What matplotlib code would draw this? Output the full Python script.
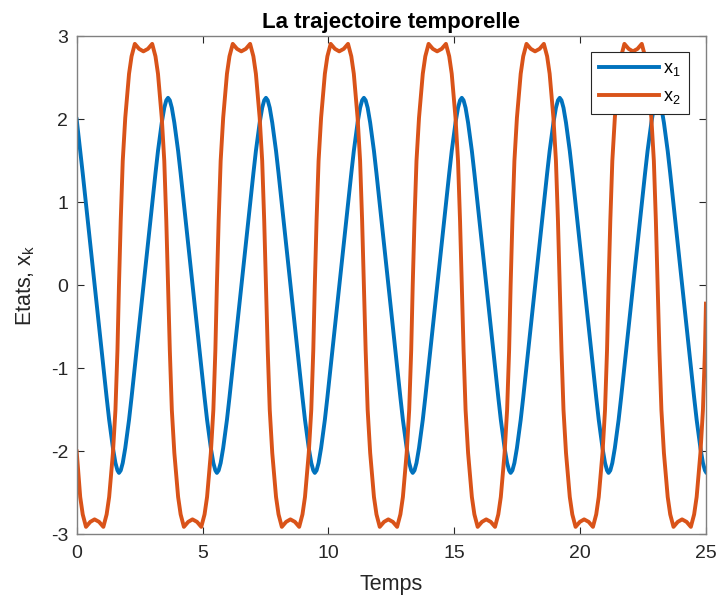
import matplotlib
matplotlib.use("Agg")
import matplotlib.pyplot as plt

plt.rcParams['font.family'] = ['Liberation Sans', 'DejaVu Sans']
plt.rcParams['mathtext.fontset'] = 'custom'
plt.rcParams['mathtext.rm'] = 'Liberation Sans'
plt.rcParams['mathtext.it'] = 'Liberation Sans'
plt.rcParams['axes.unicode_minus'] = False

# time samples
t = [0.00, 0.14, 0.24, 0.37, 0.54, 0.71, 0.89, 1.06, 1.19, 1.29, 1.44, 1.54, 1.62,
     1.68, 1.75, 1.83, 1.93, 2.08, 2.18, 2.31, 2.48, 2.65, 2.83, 3.00, 3.13, 3.23, 3.38, 3.48, 3.56,
     3.63, 3.70, 3.78, 3.88, 4.03, 4.13, 4.26, 4.43, 4.60, 4.78, 4.95, 5.08, 5.18, 5.33, 5.43, 5.51,
     5.57, 5.64, 5.72, 5.82, 5.97, 6.07, 6.20, 6.37, 6.54, 6.72, 6.89, 7.02, 7.12, 7.27, 7.37, 7.45,
     7.52, 7.59, 7.67, 7.77, 7.92, 8.02, 8.15, 8.32, 8.49, 8.67, 8.84, 8.97, 9.07, 9.22, 9.32, 9.40,
     9.46, 9.53, 9.61, 9.71, 9.86, 9.96, 10.09, 10.26, 10.43, 10.61, 10.78, 10.91, 11.01, 11.16, 11.26, 11.34,
     11.41, 11.48, 11.56, 11.66, 11.81, 11.91, 12.04, 12.21, 12.38, 12.56, 12.73, 12.86, 12.96, 13.11, 13.21, 13.29,
     13.35, 13.42, 13.50, 13.60, 13.75, 13.85, 13.98, 14.15, 14.32, 14.50, 14.67, 14.80, 14.90, 15.05, 15.15, 15.23,
     15.30, 15.37, 15.45, 15.55, 15.70, 15.80, 15.93, 16.10, 16.27, 16.45, 16.62, 16.75, 16.85, 17.00, 17.10, 17.18,
     17.24, 17.31, 17.39, 17.49, 17.64, 17.74, 17.87, 18.04, 18.21, 18.39, 18.56, 18.69, 18.79, 18.94, 19.04, 19.12,
     19.19, 19.26, 19.34, 19.44, 19.59, 19.69, 19.82, 19.99, 20.16, 20.34, 20.51, 20.64, 20.74, 20.89, 20.99, 21.07,
     21.13, 21.20, 21.28, 21.38, 21.53, 21.63, 21.76, 21.93, 22.10, 22.28, 22.45, 22.58, 22.68, 22.83, 22.93, 23.01,
     23.08, 23.15, 23.23, 23.33, 23.48, 23.58, 23.71, 23.88, 24.05, 24.23, 24.40, 24.53, 24.63, 24.78, 24.88, 24.96,
     25.00]

x1 = [2.00, 1.62, 1.35, 0.98, 0.49, 0.00, -0.49, -0.98, -1.35, -1.62, -1.96, -2.14, -2.23,
      -2.26, -2.23, -2.14, -1.96, -1.62, -1.35, -0.98, -0.49, 0.00, 0.49, 0.98, 1.35, 1.62, 1.96, 2.14, 2.23,
      2.26, 2.23, 2.14, 1.96, 1.62, 1.35, 0.98, 0.49, 0.00, -0.49, -0.98, -1.35, -1.62, -1.96, -2.14, -2.23,
      -2.26, -2.23, -2.14, -1.96, -1.62, -1.35, -0.98, -0.49, 0.00, 0.49, 0.98, 1.35, 1.62, 1.96, 2.14, 2.23,
      2.26, 2.23, 2.14, 1.96, 1.62, 1.35, 0.98, 0.49, 0.00, -0.49, -0.98, -1.35, -1.62, -1.96, -2.14, -2.23,
      -2.26, -2.23, -2.14, -1.96, -1.62, -1.35, -0.98, -0.49, 0.00, 0.49, 0.98, 1.35, 1.62, 1.96, 2.14, 2.23,
      2.26, 2.23, 2.14, 1.96, 1.62, 1.35, 0.98, 0.49, 0.00, -0.49, -0.98, -1.35, -1.62, -1.96, -2.14, -2.23,
      -2.26, -2.23, -2.14, -1.96, -1.62, -1.35, -0.98, -0.49, 0.00, 0.49, 0.98, 1.35, 1.62, 1.96, 2.14, 2.23,
      2.26, 2.23, 2.14, 1.96, 1.62, 1.35, 0.98, 0.49, 0.00, -0.49, -0.98, -1.35, -1.62, -1.96, -2.14, -2.23,
      -2.26, -2.23, -2.14, -1.96, -1.62, -1.35, -0.98, -0.49, 0.00, 0.49, 0.98, 1.35, 1.62, 1.96, 2.14, 2.23,
      2.26, 2.23, 2.14, 1.96, 1.62, 1.35, 0.98, 0.49, 0.00, -0.49, -0.98, -1.35, -1.62, -1.96, -2.14, -2.23,
      -2.26, -2.23, -2.14, -1.96, -1.62, -1.35, -0.98, -0.49, 0.00, 0.49, 0.98, 1.35, 1.62, 1.96, 2.14, 2.23,
      2.26, 2.23, 2.14, 1.96, 1.62, 1.35, 0.98, 0.49, 0.00, -0.49, -0.98, -1.35, -1.62, -1.96, -2.14, -2.23,
      -2.25]

x2 = [-2.00, -2.55, -2.76, -2.91, -2.85, -2.82, -2.85, -2.91, -2.76, -2.55, -2.02, -1.50, -0.78,
      0.00, 0.78, 1.50, 2.02, 2.55, 2.76, 2.91, 2.85, 2.82, 2.85, 2.91, 2.76, 2.55, 2.02, 1.50, 0.78,
      0.00, -0.78, -1.50, -2.02, -2.55, -2.76, -2.91, -2.85, -2.82, -2.85, -2.91, -2.76, -2.55, -2.02, -1.50, -0.78,
      0.00, 0.78, 1.50, 2.02, 2.55, 2.76, 2.91, 2.85, 2.82, 2.85, 2.91, 2.76, 2.55, 2.02, 1.50, 0.78,
      0.00, -0.78, -1.50, -2.02, -2.55, -2.76, -2.91, -2.85, -2.82, -2.85, -2.91, -2.76, -2.55, -2.02, -1.50, -0.78,
      0.00, 0.78, 1.50, 2.02, 2.55, 2.76, 2.91, 2.85, 2.82, 2.85, 2.91, 2.76, 2.55, 2.02, 1.50, 0.78,
      0.00, -0.78, -1.50, -2.02, -2.55, -2.76, -2.91, -2.85, -2.82, -2.85, -2.91, -2.76, -2.55, -2.02, -1.50, -0.78,
      0.00, 0.78, 1.50, 2.02, 2.55, 2.76, 2.91, 2.85, 2.82, 2.85, 2.91, 2.76, 2.55, 2.02, 1.50, 0.78,
      0.00, -0.78, -1.50, -2.02, -2.55, -2.76, -2.91, -2.85, -2.82, -2.85, -2.91, -2.76, -2.55, -2.02, -1.50, -0.78,
      0.00, 0.78, 1.50, 2.02, 2.55, 2.76, 2.91, 2.85, 2.82, 2.85, 2.91, 2.76, 2.55, 2.02, 1.50, 0.78,
      0.00, -0.78, -1.50, -2.02, -2.55, -2.76, -2.91, -2.85, -2.82, -2.85, -2.91, -2.76, -2.55, -2.02, -1.50, -0.78,
      0.00, 0.78, 1.50, 2.02, 2.55, 2.76, 2.91, 2.85, 2.82, 2.85, 2.91, 2.76, 2.55, 2.02, 1.50, 0.78,
      0.00, -0.78, -1.50, -2.02, -2.55, -2.76, -2.91, -2.85, -2.82, -2.85, -2.91, -2.76, -2.55, -2.02, -1.50, -0.78,
      -0.22]

x_ticks = [0, 5, 10, 15, 20, 25]
y_ticks = [-3, -2, -1, 0, 1, 2, 3]
labels = ["x$_\\mathregular{1}$", "x$_\\mathregular{2}$"]

fig = plt.figure(figsize=(7.2, 5.97), dpi=100)
ax = fig.add_axes([0.1065, 0.105, 0.874, 0.834])
ax.plot(t, x1, color='#0072BD', lw=2.8, label=labels[0])
ax.plot(t, x2, color='#D95319', lw=2.8, label=labels[1])
ax.set_xlim(0, 25)
ax.set_ylim(-3, 3)
ax.set_xticks(x_ticks)
ax.set_yticks(y_ticks)
ax.tick_params(direction='in', top=True, right=True, length=5, width=0.8,
               colors='#262626', labelsize=14)
ax.tick_params(axis='x', pad=8)
ax.tick_params(axis='y', pad=6)
for sp in ax.spines.values():
    sp.set_color('#808080')
    sp.set_linewidth(1.0)
ax.set_title("La trajectoire temporelle", fontsize=16, fontweight='bold', pad=6)
ax.set_xlabel("Temps", fontsize=15.5, color='#262626', labelpad=8)
ax.set_ylabel("Etats, x$_\\mathregular{k}$", fontsize=15.5, color='#262626', labelpad=10)
leg = ax.legend(loc='upper right', bbox_to_anchor=(0.973, 0.9685), borderaxespad=0,
                fontsize=13, handlelength=3.3, fancybox=False, framealpha=1,
                edgecolor='#262626', borderpad=0.45, labelspacing=0.55, handletextpad=0.25)
leg.get_frame().set_linewidth(0.8)
fig.savefig("out.png", dpi=100)
